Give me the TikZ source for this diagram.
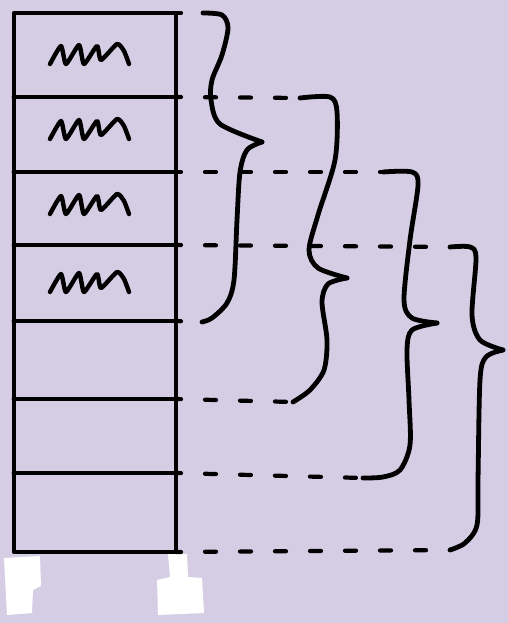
\documentclass[tikz,border=0pt]{standalone}
\usepackage{tikz}
\definecolor{lilaccolor}{RGB}{213,205,227}

\begin{document}
\begin{tikzpicture}[x=1pt, y=-1pt, line cap=round, line join=round,
  ink/.style={line width=4.8pt},
  guide/.style={line width=4.2pt, dash pattern=on 11pt off 24pt, dash phase=6pt},
  scrawl/.style={line width=4.4pt}]
% Background
\fill[lilaccolor] (0,0) rectangle (508,623);
\useasboundingbox (0,0) rectangle (508,623);

% Feet
\fill[white] (4,558) -- (40,556) -- (41,586) -- (33,590) -- (32,613) -- (7,615) -- cycle;
\fill[white] (168,554) -- (187,554) -- (188,577) -- (202,578) -- (204,613) -- (158,615) -- (157,580) -- (170,577) -- cycle;

% Corners of the stack
\foreach \y [count=\i from 0] in {13,97,172,245,321,399,473,552} {
  \coordinate (l\i) at (14,\y);
  \coordinate (r\i) at (176,\y);
}

% The stack of cells
\draw[ink] (l0) rectangle (r7);
\foreach \i in {1,...,6} \draw[ink] (l\i) -- (r\i);

% Scrawls in the four upper cells
\foreach \yc in {55,130,205,283}
  \draw[scrawl, shift={(93,\yc)}] plot[smooth, tension=0.35] coordinates
    {(-43,9) (-32,-9) (-27,9) (-14,-10) (-9,9) (4,-9) (8,5) (24,-11) (31,-4) (36,9)};

% Brace ends and tips
\coordinate (b1t) at (203,13);  \coordinate (b1m) at (262,142); \coordinate (b1b) at (202,322);
\coordinate (b2t) at (300,98);  \coordinate (b2m) at (347,278); \coordinate (b2b) at (293,402);
\coordinate (b3t) at (383,172); \coordinate (b3m) at (437,323); \coordinate (b3b) at (363,478);
\coordinate (b4t) at (450,247); \coordinate (b4m) at (503,350); \coordinate (b4b) at (450,550);

% Dashed guides
\draw[guide] (r0) -- (b1t);
\draw[guide] (r1) -- (b2t);
\draw[guide] (r2) -- (b3t);
\draw[guide] (r3) -- (b4t);
\draw[guide] (r4) -- (b1b);
\draw[guide] (r5) -- (b2b);
\draw[guide] (r6) -- (b3b);
\draw[guide] (r7) -- (b4b);

% Braces
\draw[ink] plot[smooth] coordinates {(b1t) (222,15) (228,28) (222,55) (212,80) (211,100) (220,124) (b1m)};
\draw[ink] plot[smooth] coordinates {(b1m) (247,150) (240,172) (237,220) (234,280) (227,303) (212,318) (b1b)};
\draw[ink] plot[smooth] coordinates {(b2t) (330,97) (337,112) (335,160) (318,215) (309,250) (318,268) (b2m)};
\draw[ink] plot[smooth] coordinates {(b2m) (328,284) (322,302) (327,340) (324,370) (310,390) (b2b)};
\draw[ink] plot[smooth] coordinates {(b3t) (412,172) (418,185) (410,240) (404,300) (412,318) (b3m)};
\draw[ink] plot[smooth] coordinates {(b3m) (412,330) (407,350) (409,400) (410,445) (400,470) (383,477) (b3b)};
\draw[ink] plot[smooth] coordinates {(b4t) (470,247) (476,258) (472,315) (480,340) (b4m)};
\draw[ink] plot[smooth] coordinates {(b4m) (486,357) (480,380) (478,480) (477,525) (465,543) (b4b)};
\end{tikzpicture}
\end{document}
